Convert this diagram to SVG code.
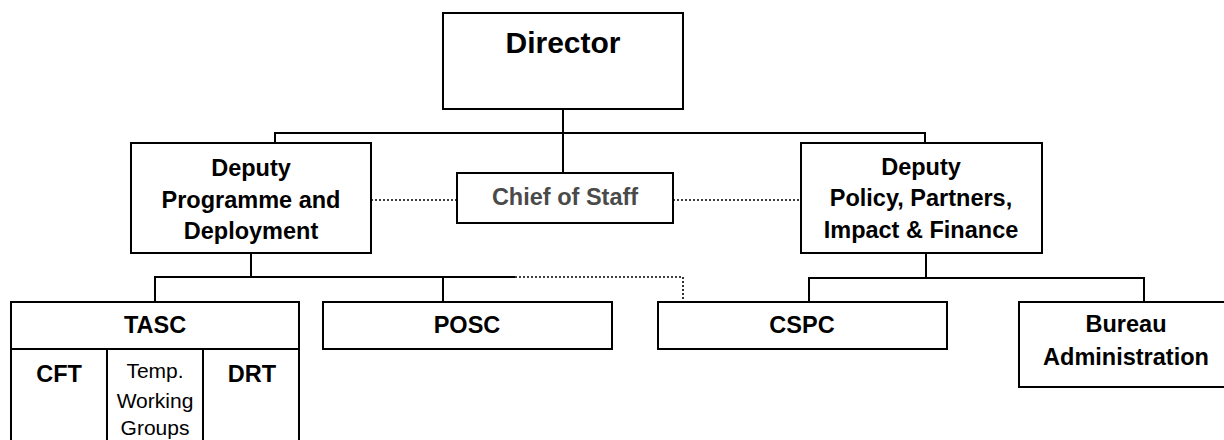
<svg xmlns="http://www.w3.org/2000/svg" width="1224" height="440" viewBox="0 0 1224 440">
<style>
.box{fill:#fff;stroke:#000;stroke-width:2}
.ln{fill:none;stroke:#000;stroke-width:2}
.dot{fill:none;stroke:#000;stroke-width:1.6;stroke-dasharray:2 2}
.t{font-family:"Liberation Sans",Arial,sans-serif;font-weight:bold;font-size:23.5px;fill:#000;text-anchor:middle}
.r{font-family:"Liberation Sans",Arial,sans-serif;font-size:21px;fill:#000;text-anchor:middle}
</style>
<rect width="1224" height="440" fill="#fff"/>
<g id="connectors">
<path class="ln" d="M563 109V173M275 143V133H925V143"/>
<path class="ln" d="M251 253V277M155 302V277H515M443 277V302"/>
<path class="dot" d="M515 277H683V302"/>
<path class="ln" d="M926 253V278M809 302V278H1144V302"/>
<path class="dot" d="M371 200H457M673 200H801"/>
</g>
<g id="director">
<rect class="box" x="443" y="13" width="240" height="96"/>
<text class="t" x="563" y="53" style="font-size:30px">Director</text>
</g>
<g id="deputy-programme">
<rect class="box" x="131" y="143" width="240" height="110"/>
<text class="t" x="251" y="176">Deputy</text>
<text class="t" x="251" y="208">Programme and</text>
<text class="t" x="251" y="239">Deployment</text>
</g>
<g id="chief-of-staff">
<rect class="box" x="457" y="173" width="216" height="50"/>
<text class="t" x="565" y="205" style="fill:#4a4a4a">Chief of Staff</text>
</g>
<g id="deputy-policy">
<rect class="box" x="801" y="143" width="241" height="110"/>
<text class="t" x="921" y="175">Deputy</text>
<text class="t" x="921" y="206">Policy, Partners,</text>
<text class="t" x="921" y="238">Impact &amp; Finance</text>
</g>
<g id="tasc">
<rect class="box" x="11" y="302" width="288" height="150"/>
<path class="ln" d="M11 349H299M107 349V452M203 349V452"/>
<text class="t" x="155" y="333">TASC</text>
</g>
<g id="cft">
<text class="t" x="59" y="382">CFT</text>
</g>
<g id="temp-working-groups">
<text class="r" x="155" y="378">Temp.</text>
<text class="r" x="155" y="408">Working</text>
<text class="r" x="155" y="435">Groups</text>
</g>
<g id="drt">
<text class="t" x="252" y="382">DRT</text>
</g>
<g id="posc">
<rect class="box" x="323" y="302" width="289" height="47"/>
<text class="t" x="467" y="333">POSC</text>
</g>
<g id="cspc">
<rect class="box" x="658" y="302" width="289" height="47"/>
<text class="t" x="802" y="333">CSPC</text>
</g>
<g id="bureau-administration">
<rect class="box" x="1019" y="302" width="213" height="85"/>
<text class="t" x="1126" y="332">Bureau</text>
<text class="t" x="1126" y="365">Administration</text>
</g>
</svg>
